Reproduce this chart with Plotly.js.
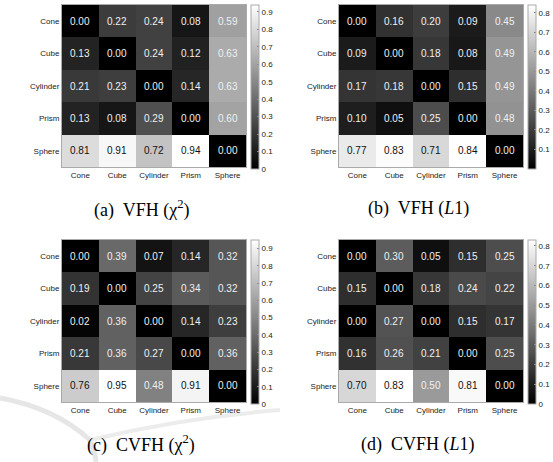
<!DOCTYPE html>
<html><head><meta charset="utf-8">
<script src="https://cdn.plot.ly/plotly-3.0.1.min.js"></script>
<style>html,body{margin:0;padding:0;background:#fff;}#plot{width:553px;height:462px;}</style>
</head><body><div id="plot"></div>
<script>
const categories = ['Cone','Cube','Cylinder','Prism','Sphere'];
const vfhChi2 = [
  [0.00,0.22,0.24,0.08,0.59],
  [0.13,0.00,0.24,0.12,0.63],
  [0.21,0.23,0.00,0.14,0.63],
  [0.13,0.08,0.29,0.00,0.60],
  [0.81,0.91,0.72,0.94,0.00]];
const vfhL1 = [
  [0.00,0.16,0.20,0.09,0.45],
  [0.09,0.00,0.18,0.08,0.49],
  [0.17,0.18,0.00,0.15,0.49],
  [0.10,0.05,0.25,0.00,0.48],
  [0.77,0.83,0.71,0.84,0.00]];
const cvfhChi2 = [
  [0.00,0.39,0.07,0.14,0.32],
  [0.19,0.00,0.25,0.34,0.32],
  [0.02,0.36,0.00,0.14,0.23],
  [0.21,0.36,0.27,0.00,0.36],
  [0.76,0.95,0.48,0.91,0.00]];
const cvfhL1 = [
  [0.00,0.30,0.05,0.15,0.25],
  [0.15,0.00,0.18,0.24,0.22],
  [0.00,0.27,0.00,0.15,0.17],
  [0.16,0.26,0.21,0.00,0.25],
  [0.70,0.83,0.50,0.81,0.00]];
const ticksA = [0,0.1,0.2,0.3,0.4,0.5,0.6,0.7,0.8,0.9];
const ticksB = [0.1,0.2,0.3,0.4,0.5,0.6,0.7,0.8];
const ticksC = [0,0.1,0.2,0.3,0.4,0.5,0.6,0.7,0.8,0.9];
const ticksD = [0,0.1,0.2,0.3,0.4,0.5,0.6,0.7,0.8];
const captions = ['(a)  VFH (χ<sup>2</sup>)','(b)  VFH (<i>L</i>1)','(c)  CVFH (χ<sup>2</sup>)','(d)  CVFH (<i>L</i>1)'];

const W = 553, H = 462;
const panels = [
  {z: vfhChi2, ticks: ticksA, x0: 62, y0: 5},
  {z: vfhL1, ticks: ticksB, x0: 339, y0: 5},
  {z: cvfhChi2, ticks: ticksC, x0: 62, y0: 240},
  {z: cvfhL1, ticks: ticksD, x0: 339, y0: 240}];
const pw = 184, ph = 162;
const data = [], annotations = [];
const layout = {
  width: W, height: H, margin: {l:0,r:0,t:0,b:0},
  paper_bgcolor: '#fff', plot_bgcolor: '#fff', showlegend: false,
  font: {family: 'Liberation Sans, Arial, sans-serif', size: 8, color: '#222'},
  annotations: annotations,
  shapes: [
    {type:'path', xref:'paper', yref:'paper', layer:'below',
     path: 'M 0,' + (1-398/H) + ' Q ' + (55/W) + ',' + (1-408/H) + ' ' + (90/W) + ',' + (1-440/H),
     line:{color:'#e6e6e6', width:5}},
    {type:'path', xref:'paper', yref:'paper', layer:'below',
     path: 'M ' + (90/W) + ',' + (1-440/H) + ' Q ' + (95/W) + ',' + (1-452/H) + ' ' + (96/W) + ',' + 0,
     line:{color:'#e6e6e6', width:5}},
    {type:'path', xref:'paper', yref:'paper', layer:'below',
     path: 'M ' + (90/W) + ',' + (1-440/H) + ' Q ' + (180/W) + ',' + (1-418/H) + ' ' + (280/W) + ',' + (1-410/H),
     line:{color:'#ececec', width:4}}
  ]
};
panels.forEach((p, i) => {
  const n = i + 1;
  const xa = n === 1 ? 'x' : 'x' + n, ya = n === 1 ? 'y' : 'y' + n;
  const zmax = Math.max(...p.z.flat());
  data.push({
    type: 'heatmap', z: p.z, x: categories, y: categories,
    xaxis: xa, yaxis: ya, zmin: 0, zmax: zmax,
    colorscale: [[0,'#000000'],[1,'#ffffff']], hoverinfo: 'none',
    xgap: 0, ygap: 0,
    colorbar: {
      x: (p.x0 + pw + 5) / W, xanchor: 'left', xpad: 0, ypad: 0,
      y: 1 - (p.y0 + 1 + ph/2) / H, yanchor: 'middle',
      lenmode: 'pixels', len: ph + 2, thickness: 8,
      outlinecolor: '#aaa', outlinewidth: 1,
      tickvals: p.ticks, ticktext: p.ticks.map(v => v === 0 ? '0' : String(v)),
      ticks: 'inside', ticklen: 2, tickcolor: '#888',
      tickfont: {size: 8, color: '#222'}
    }
  });
  const xk = n === 1 ? 'xaxis' : 'xaxis' + n, yk = n === 1 ? 'yaxis' : 'yaxis' + n;
  layout[xk] = {domain: [p.x0 / W, (p.x0 + pw) / W], anchor: ya, showgrid: false, zeroline: false,
    showline: true, mirror: true, linecolor: '#aaa', linewidth: 1, ticks: '', ticklen: 0,
    tickfont: {size: 8}, fixedrange: true};
  layout[yk] = {domain: [1 - (p.y0 + ph) / H, 1 - p.y0 / H], anchor: xa, autorange: 'reversed',
    showgrid: false, zeroline: false, showline: true, mirror: true, linecolor: '#aaa', linewidth: 1,
    ticks: '', tickfont: {size: 8}, fixedrange: true};
  p.z.forEach((row, r) => row.forEach((v, c) => {
    annotations.push({xref: xa, yref: ya, x: categories[c], y: categories[r], text: v.toFixed(2),
      showarrow: false, font: {size: 10, color: v / zmax > 0.7 ? '#111' : '#f0f0f0'}});
  }));
  annotations.push({xref: 'paper', yref: 'paper', x: (p.x0 + pw/2 - 13) / W, y: 1 - (p.y0 + 204) / H,
    xanchor: 'center', yanchor: 'middle', text: captions[i], showarrow: false,
    font: {family: 'Liberation Serif, Times New Roman, serif', size: 18, color: '#000'}});
});
Plotly.newPlot('plot', data, layout, {staticPlot: true, displayModeBar: false});
</script></body></html>
